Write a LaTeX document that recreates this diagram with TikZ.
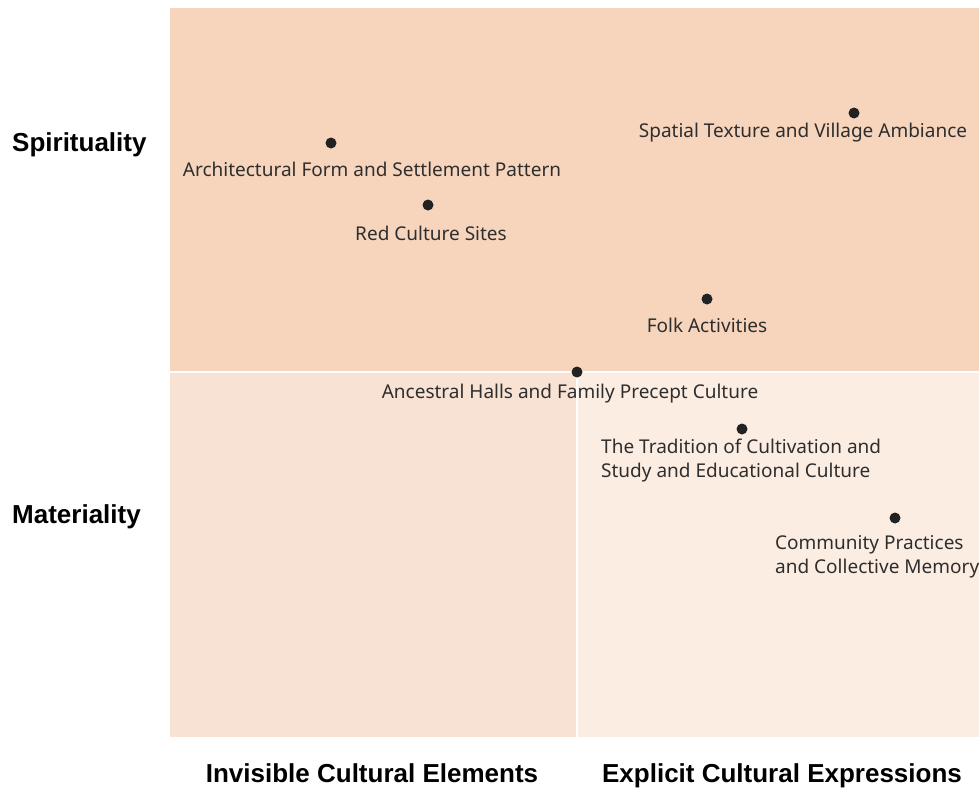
\documentclass[tikz,border=0pt]{standalone}
\usepackage{fontspec}
\setmainfont{Noto Sans}
\newfontfamily\axisfont{Liberation Sans}
\usetikzlibrary{positioning}

\definecolor{spirit}{HTML}{F7D5BD}
\definecolor{invis}{HTML}{F8E2D4}
\definecolor{expl}{HTML}{FCEDE3}
\definecolor{dotc}{HTML}{222222}
\definecolor{txt}{HTML}{2E2E2E}

\begin{document}
\begin{tikzpicture}[x=1pt,y=-1pt,
        dot/.style={circle,fill=dotc,inner sep=0pt,minimum size=11pt},
        item/.style={font=\fontsize{19}{24}\selectfont,text=txt,inner sep=0pt,align=left},
        axis/.style={font=\axisfont\fontsize{26}{30}\selectfont\bfseries,text=black,inner sep=0pt}
      ]

  \useasboundingbox (0,0) rectangle (979,787);

  % quadrants
  \fill[spirit] (170,8) rectangle (979,371);
  \fill[invis] (170,373) rectangle (576,737);
  \fill[expl] (578,373) rectangle (979,737);

  % axis labels
  \node (spir) [axis,anchor=base west] at (12,151) {Spirituality};
  \node (mat) [axis,anchor=base west] at (12,523) {Materiality};
  \node (invis) [axis,anchor=base] at (372,782) {Invisible Cultural Elements};
  \node (expl) [axis,anchor=base] at (782,782) {Explicit Cultural Expressions};

  % elements
  \node (arch) [dot] at (331,143) {};
  \node at (372,169) [item] {Architectural Form and Settlement Pattern};
  \node (red) [dot] at (428,205) {};
  \node at (431,233) [item] {Red Culture Sites};
  \node (spat) [dot] at (854,113) {};
  \node at (803,133) [item] {Spatial Texture and Village Ambiance};
  \node (folk) [dot] at (707,299) {};
  \node at (707,325) [item] {Folk Activities};
  \node (anc) [dot] at (577,372) {};
  \node at (570,394) [item] {Ancestral Halls and Family Precept Culture};
  \node (trad) [dot] at (742,429) {};
  \node at (601,461) [item,anchor=west] {The Tradition of Cultivation and\\Study and Educational Culture};
  \node (comm) [dot] at (895,518) {};
  \node at (775,557) [item,anchor=west] {Community Practices\\and Collective Memory};

\end{tikzpicture}
\end{document}
